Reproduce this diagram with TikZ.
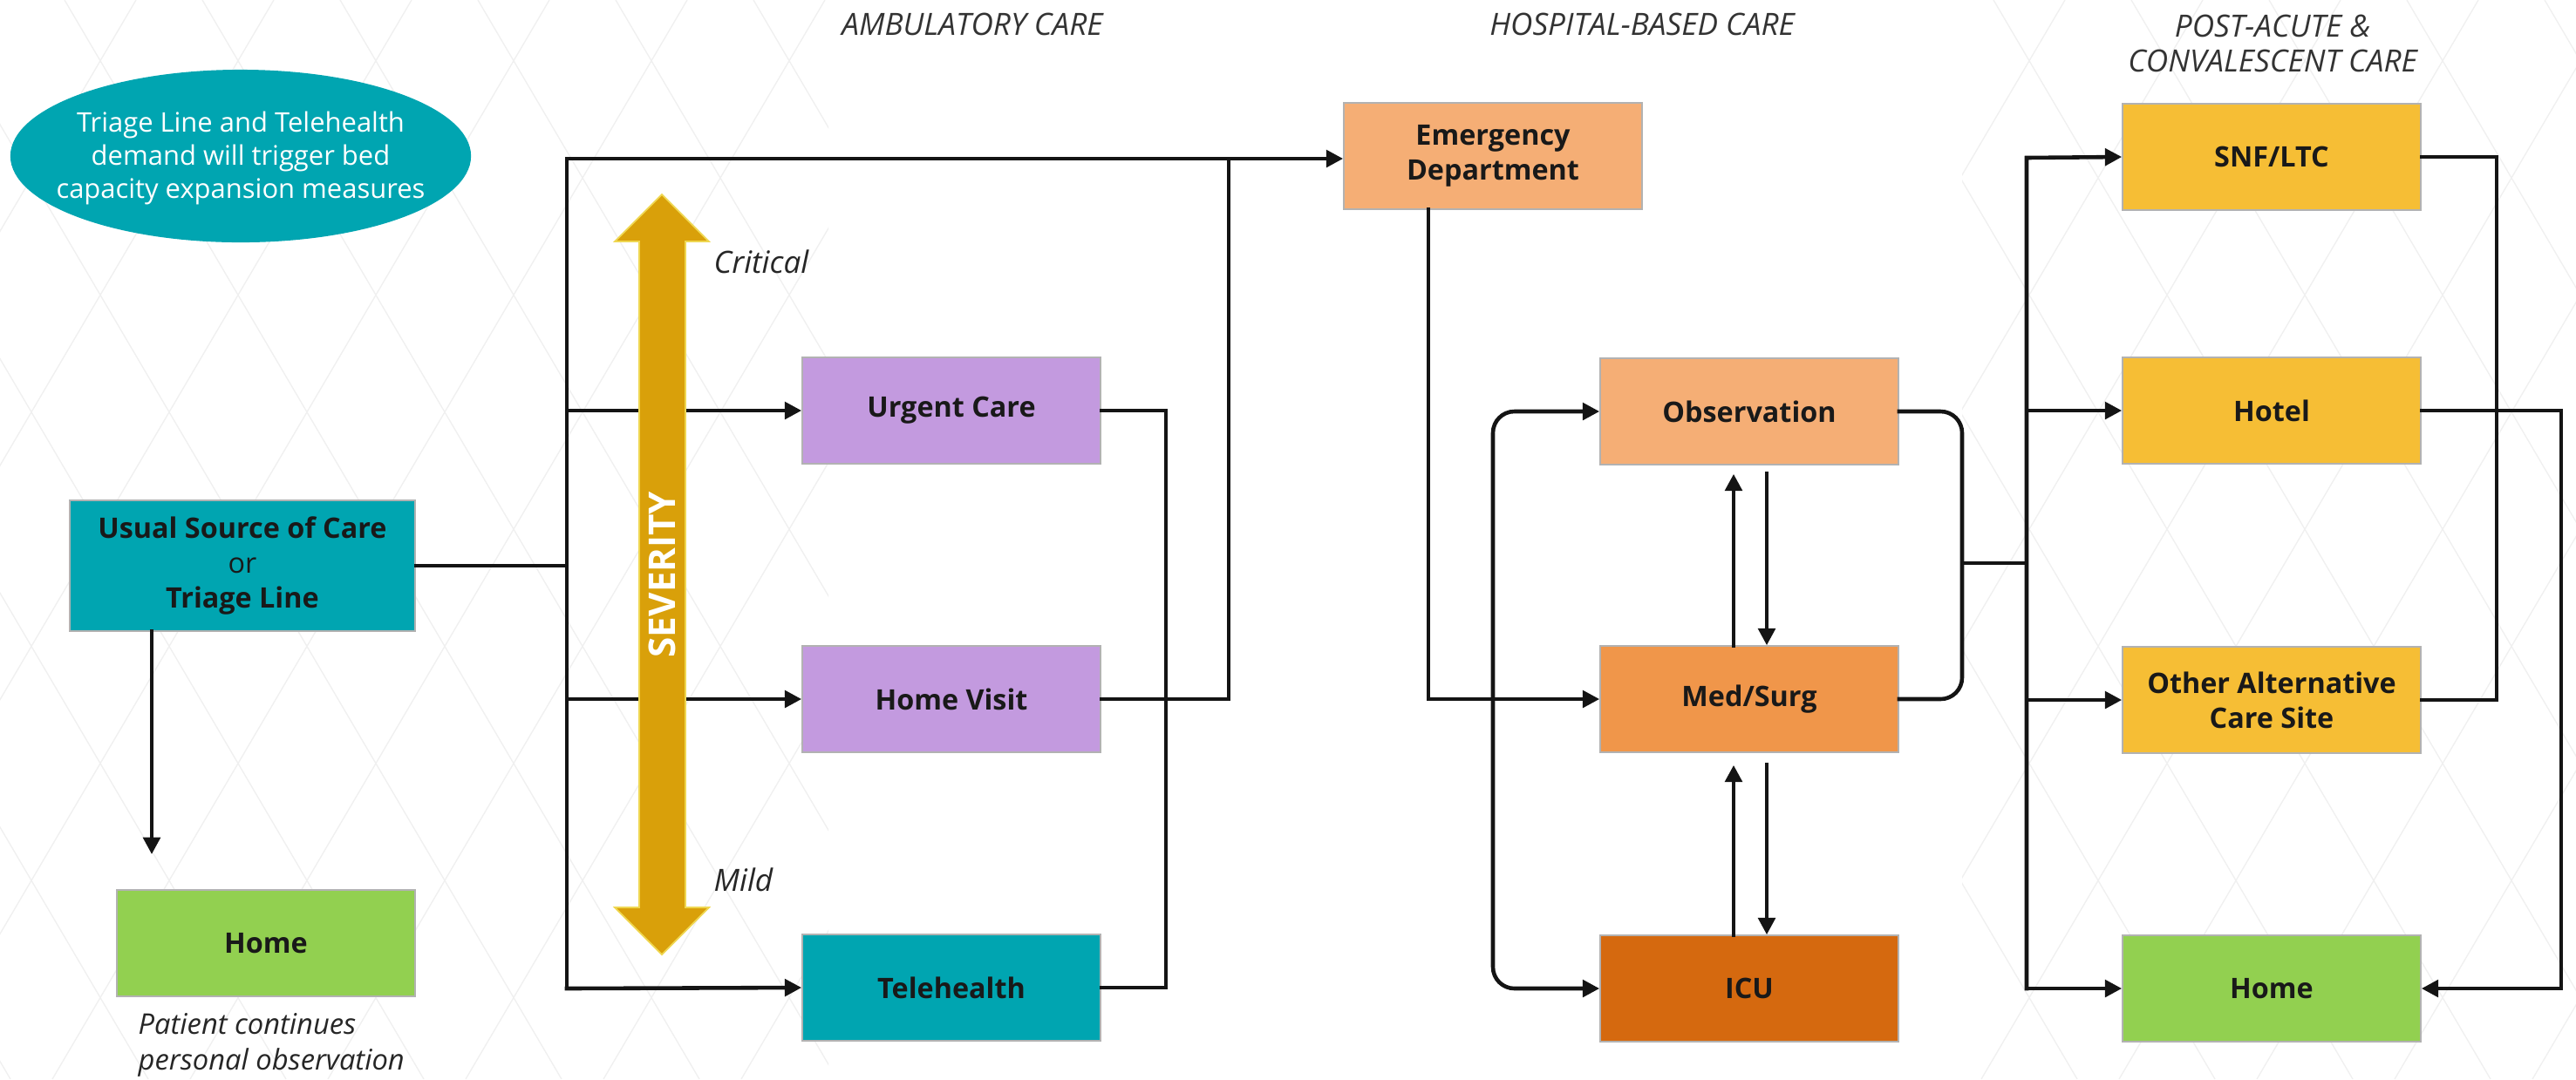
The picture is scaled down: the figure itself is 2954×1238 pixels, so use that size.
\documentclass[tikz,border=0pt]{standalone}
\usepackage{fontspec}
\setmainfont{Open Sans}
\usetikzlibrary{arrows.meta,shapes.geometric}
\definecolor{tealbox}{HTML}{00A5B1}
\definecolor{lilac}{HTML}{C39ADF}
\definecolor{peach}{HTML}{F5AE75}
\definecolor{medorange}{HTML}{F0964A}
\definecolor{rust}{HTML}{D5690F}
\definecolor{sunny}{HTML}{F6BE35}
\definecolor{lime}{HTML}{92D050}
\definecolor{sevgold}{HTML}{D9A00A}

\begin{document}
\begin{tikzpicture}[x=0.01cm, y=-0.01cm,
    >={Triangle[length=5.5pt,width=5.5pt]},
    box/.style={draw=black!30, line width=0.4pt, minimum width=3.42cm, minimum height=1.22cm,
        inner sep=2pt, align=center, text=black!90,
        font=\fontsize{9.2}{11.4}\selectfont\bfseries},
    conn/.style={line width=1.3pt, black!92, line cap=rect},
    hdr/.style={font=\fontsize{10}{11.4}\selectfont\itshape, text=black!80, align=center},
    lbl/.style={font=\fontsize{10}{12}\selectfont\itshape, text=black!85, inner sep=0pt}]

    \useasboundingbox (0,0) rectangle (2954,1238);

    % Background lattice
    \begin{scope}
        \clip (0,0) rectangle (950,1238) (2250,0) rectangle (2954,1238);
        \foreach \k in {-6,...,24} {
            \draw[black!6, line width=0.4pt] (74+158*\k,0) -- (802+158*\k,1238);
            \draw[black!6, line width=0.4pt] (-2+158*\k,0) -- (-730+158*\k,1238);
        }
    \end{scope}

    % Column headings
    \node[hdr] (ambhdr) at (1115,28) {AMBULATORY CARE};
    \node[hdr] (hosphdr) at (1883,28) {HOSPITAL-BASED CARE};
    \node[hdr] (pachdr) at (2606,50) {POST-ACUTE \&\\CONVALESCENT CARE};

    % Note
    \fill[tealbox] (276,179) ellipse [x radius=2.64cm, y radius=0.99cm];
    \node[align=center, text=white, font=\fontsize{8.8}{10.8}\selectfont] (trigger) at (276,181)
        {Triage Line and Telehealth\\demand will trigger bed\\capacity expansion measures};

    % Boxes
    \node[box, fill=tealbox, minimum width=3.96cm, minimum height=1.5cm] (usual) at (278,649)
        {Usual Source of Care\\{\mdseries or}\\Triage Line};
    \node[box, fill=lime] (home1) at (305,1082) {Home};
    \node[lbl, anchor=north west, align=left, font=\fontsize{9.3}{11.7}\selectfont\itshape] (selfobs) at (158,1162)
        {Patient continues\\personal observation};

    \node[box, fill=lilac] (urgent) at (1091,471) {Urgent Care};
    \node[box, fill=lilac] (visit) at (1091,802) {Home Visit};
    \node[box, fill=tealbox] (tele) at (1091,1133) {Telehealth};

    \node[box, fill=peach] (ed) at (1712,179) {Emergency\\Department};
    \node[box, fill=peach] (obs) at (2006,472) {Observation};
    \node[box, fill=medorange] (med) at (2006,802) {Med/Surg};
    \node[box, fill=rust] (icu) at (2006,1134) {ICU};

    \node[box, fill=sunny] (snf) at (2605,180) {SNF/LTC};
    \node[box, fill=sunny] (hotel) at (2605,471) {Hotel};
    \node[box, fill=sunny] (other) at (2605,803) {Other Alternative\\Care Site};
    \node[box, fill=lime] (home2) at (2605,1134) {Home};

    % Junctions
    \coordinate (ambtop) at (650,182);
    \coordinate (ambbot) at (650,1134);
    \coordinate (ambright) at (1337,1133);
    \coordinate (edfeed) at (1409,182);
    \coordinate (edout) at (1638,240);
    \coordinate (loopx) at (1712,800);
    \coordinate (hospout) at (2250,646);
    \coordinate (pactop) at (2324,181);
    \coordinate (pacbot) at (2324,1134);
    \coordinate (snfret) at (2863,500);
    \coordinate (hotret) at (2937,800);

    % Ambulatory
    \draw[conn, ->] (usual.south -| 174,0) -- (174,980);
    \draw[conn] (usual.east) -- (usual -| ambtop);
    \draw[conn, ->] (ambbot) -- (ambtop) -- (ambtop -| ed.west);
    \draw[conn, ->] (urgent -| ambtop) -- (urgent.west);
    \draw[conn, ->] (visit -| ambtop) -- (visit.west);
    \draw[conn, ->] (ambbot) -- (tele.west);
    \draw[conn] (urgent.east) -| (ambright) -- (tele.east);
    \draw[conn] (visit.east) -| (edfeed);

    % Hospital
    \draw[conn, ->] (edout) |- (med.west);
    \draw[conn, <->, rounded corners=7pt] (obs.west) -| (loopx) |- (icu.west);
    \draw[conn, ->, shorten >=1mm] ([xshift=-1.8mm]med.north) -- ([xshift=-1.8mm]obs.south);
    \draw[conn, ->, shorten <=1mm] ([xshift=2mm]obs.south) -- ([xshift=2mm]med.north);
    \draw[conn, ->, shorten >=1.4mm] ([xshift=-1.8mm]icu.north) -- ([xshift=-1.8mm]med.south);
    \draw[conn, ->, shorten <=1.4mm] ([xshift=2mm]med.south) -- ([xshift=2mm]icu.north);
    \draw[conn, rounded corners=7pt] (obs.east) -| (hospout) |- (med.east);
    \draw[conn] (hospout) -- (hospout -| pactop);

    % Post-acute
    \draw[conn, ->] (pacbot) -- (pactop) -- (snf.west);
    \draw[conn, ->] (hotel -| pactop) -- (hotel.west);
    \draw[conn, ->] (other -| pactop) -- (other.west);
    \draw[conn, ->] (pacbot) -- (home2.west);
    \draw[conn] (snf.east) -| (snfret) |- (other.east);
    \draw[conn, ->] (hotel.east) -| (hotret) |- (home2.east);

    % Severity arrow
    \filldraw[fill=sevgold, draw=sevgold!60!yellow!70!white, line width=0.5pt]
        (733,277) -- (705,277) -- (759,223) -- (813,277) -- (786,277) -- (786,1041)
        -- (813,1041) -- (759,1095) -- (705,1041) -- (733,1041) -- cycle;
    \node[rotate=90, text=white, font=\fontsize{12}{14}\selectfont\bfseries] (sev) at (759,659) {SEVERITY};
    \node[lbl, anchor=west] (crit) at (818,300) {Critical};
    \node[lbl, anchor=west] (mild) at (818,1009) {Mild};
\end{tikzpicture}
\end{document}
